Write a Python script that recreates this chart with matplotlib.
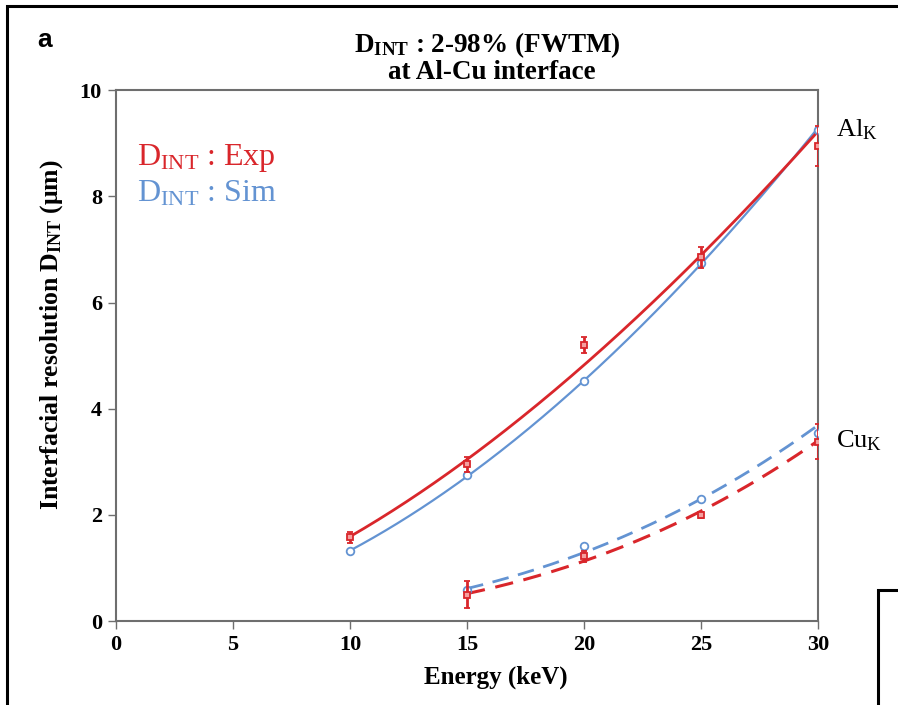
import numpy as np
import matplotlib
matplotlib.use("Agg")
import matplotlib.pyplot as plt
from matplotlib.patches import Rectangle

plt.rcParams["font.family"] = ["Liberation Serif", "DejaVu Serif"]
plt.rcParams["mathtext.fontset"] = "custom"
plt.rcParams["mathtext.rm"] = "Liberation Serif"
plt.rcParams["mathtext.bf"] = "Liberation Serif:bold"
plt.rcParams["mathtext.it"] = "Liberation Serif:italic"

# Interfacial resolution D_INT (um) vs beam energy (keV)
energy_al = [10, 15, 20, 25, 30]
al_exp = [1.58, 2.95, 5.20, 6.85, 8.95]
al_exp_err = [0.10, 0.15, 0.15, 0.20, 0.38]
al_sim = [1.32, 2.75, 4.52, 6.75, 9.25]

energy_cu = [15, 20, 25, 30]
cu_exp = [0.50, 1.22, 2.00, 3.38]
cu_exp_err = [0.25, 0.10, 0.05, 0.33]
cu_sim = [0.58, 1.42, 2.30, 3.55]

x_ticks = [0, 5, 10, 15, 20, 25, 30]
y_ticks = [0, 2, 4, 6, 8, 10]

RED = "#d9262b"
BLUE = "#6393d2"
SPINE = "#6e6e6e"

fig = plt.figure(figsize=(8.98, 7.05), dpi=100)
ax = fig.add_axes([0.129, 0.119, 0.782, 0.753])

# panel frames
fig.patches.append(Rectangle((7 / 898, -0.05), 1.1, 1 - 6 / 705 + 0.05,
                             transform=fig.transFigure, fill=False,
                             edgecolor="black", linewidth=2.2, zorder=0))
fig.patches.append(Rectangle((878 / 898, -0.05), 0.2, 1 - 590 / 705 + 0.05,
                             transform=fig.transFigure, fill=False,
                             edgecolor="black", linewidth=2.2, zorder=0))


def power_trend(x, y):
    """Least-squares power-law trendline y = a * x**b."""
    b, ln_a = np.polyfit(np.log(x), np.log(y), 1)
    xs = np.linspace(min(x), max(x), 200)
    return xs, np.exp(ln_a) * xs ** b


# Al K trendlines (solid)
xs, ys = power_trend(energy_al, al_sim)
ax.plot(xs, ys, color=BLUE, lw=1.6, zorder=2)
xs, ys = power_trend(energy_al, al_exp)
ax.plot(xs, ys, color=RED, lw=2.0, zorder=3)

# Cu K trendlines (dashed)
xs, ys = power_trend(energy_cu, cu_sim)
ax.plot(xs, ys, color=BLUE, lw=2.0, ls=(0, (6, 3.5)), zorder=2)
xs, ys = power_trend(energy_cu, cu_exp)
ax.plot(xs, ys, color=RED, lw=2.2, ls=(0, (6, 3.5)), zorder=3)

# simulated points
ax.plot(energy_al, al_sim, ls="none", marker="o", ms=5.5, mfc="white",
        mec=BLUE, mew=1.3, zorder=4)
ax.plot(energy_cu, cu_sim, ls="none", marker="o", ms=5.5, mfc="white",
        mec=BLUE, mew=1.3, zorder=4)

# experimental points with error bars
ax.errorbar(energy_al, al_exp, yerr=al_exp_err, fmt="s", ms=5, mfc="#f4a0a0",
            mec=RED, mew=1.3, ecolor=RED, elinewidth=2.0, capsize=2.5,
            capthick=1.5, zorder=5)
ax.errorbar(energy_cu, cu_exp, yerr=cu_exp_err, fmt="s", ms=5, mfc="#f4a0a0",
            mec=RED, mew=1.3, ecolor=RED, elinewidth=2.0, capsize=2.5,
            capthick=1.5, zorder=5)

ax.set_xlim(0, 30)
ax.set_ylim(0, 10)
ax.set_xticks(x_ticks)
ax.set_yticks(y_ticks)
ax.set_xticklabels([str(v) for v in x_ticks], fontsize=16, fontweight="bold")
ax.set_yticklabels([str(v) for v in y_ticks], fontsize=16, fontweight="bold")
ax.tick_params(direction="out", length=6, width=1.0, color=SPINE, pad=4)
for side in ["left", "bottom", "right", "top"]:
    ax.spines[side].set_color(SPINE)
    ax.spines[side].set_linewidth(1.5)

ax.set_xlabel("Energy (keV)", fontsize=18, fontweight="bold")
ax.xaxis.set_label_coords(0.541, -0.083)
ax.set_ylabel(r"Interfacial resolution D$_{\mathbf{INT}}$ ($\mathbf{\mu}$m)",
              fontsize=18.5, fontweight="bold")
ax.yaxis.set_label_coords(-0.073, 0.54)

fig.text(0.543, 0.936, r"D$_{\mathbf{INT}}$ : 2-98% (FWTM)",
         ha="center", va="center", fontsize=19.5, fontweight="bold")
fig.text(0.548, 0.897, "at Al-Cu interface",
         ha="center", va="center", fontsize=19.5, fontweight="bold")
fig.text(0.041, 0.943, "a", ha="left", va="center", fontsize=19,
         fontweight="bold", family=["Liberation Sans", "DejaVu Sans"])

# in-plot key
ax.text(0.03, 0.873, r"D$_{\mathrm{INT}}$ : Exp", transform=ax.transAxes,
        color=RED, fontsize=23, ha="left", va="center")
ax.text(0.03, 0.805, r"D$_{\mathrm{INT}}$ : Sim", transform=ax.transAxes,
        color=BLUE, fontsize=23, ha="left", va="center")

# line labels
ax.text(1.025, 0.925, r"Al$_{\mathrm{K}}$", transform=ax.transAxes,
        fontsize=19, ha="left", va="center", clip_on=False)
ax.text(1.025, 0.34, r"Cu$_{\mathrm{K}}$", transform=ax.transAxes,
        fontsize=19, ha="left", va="center", clip_on=False)

fig.savefig("out.png", dpi=100)
